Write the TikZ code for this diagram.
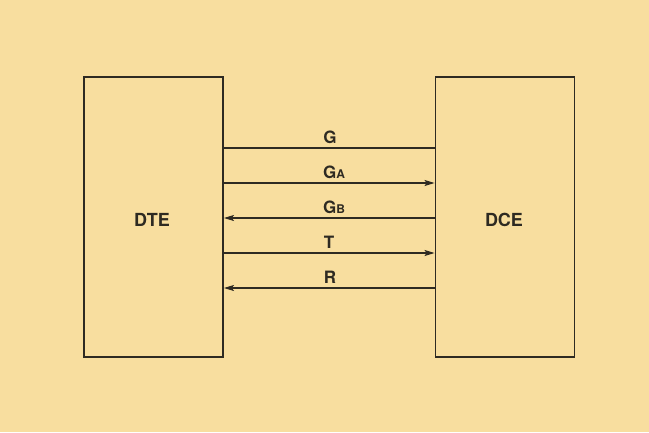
\documentclass[tikz,border=0pt]{standalone}
\usepackage{fontspec}
\setmainfont{TeX Gyre Heros}
\usetikzlibrary{arrows.meta}
\definecolor{paper}{HTML}{F8DE9F}
\definecolor{ink}{HTML}{2E2A22}
\begin{document}
\begin{tikzpicture}[x=1pt,y=-1pt,
  unit/.style={draw=ink,line width=1.9pt,minimum width=139pt,minimum height=280pt,inner sep=0pt},
  unitlab/.style={font=\bfseries\fontsize{18}{21}\selectfont,text=ink,inner sep=0pt,anchor=base},
  sig/.style={draw=ink,line width=1.2pt},
  arr/.style={sig,-{Stealth[length=10pt,width=6pt,inset=2pt]}},
  lab/.style={font=\bfseries\fontsize{17}{20}\selectfont,text=ink,inner sep=0pt,anchor=base}]
\fill[paper] (0,0) rectangle (649,432);
\useasboundingbox (0,0) rectangle (649,432);
\node[unit] (dte) at (153.5,217) {};
\node[unit] (dce) at (505,217) {};
\node[unitlab] (dtel) at (152,226) {DTE};
\node[unitlab] (dcel) at (504,226) {DCE};
\coordinate (l1) at (dte.east |- 0,148); \coordinate (r1) at (dce.west |- 0,148);
\coordinate (l2) at (dte.east |- 0,183); \coordinate (r2) at (dce.west |- 0,183);
\coordinate (l3) at (dte.east |- 0,218); \coordinate (r3) at (dce.west |- 0,218);
\coordinate (l4) at (dte.east |- 0,253); \coordinate (r4) at (dce.west |- 0,253);
\coordinate (l5) at (dte.east |- 0,288); \coordinate (r5) at (dce.west |- 0,288);
\draw[sig] (l1) -- (r1);
\draw[arr] (l2) -- (r2);
\draw[arr] (r3) -- (l3);
\draw[arr] (l4) -- (r4);
\draw[arr] (r5) -- (l5);
\node[lab] (g) at (330,143) {G};
\node[lab] (ga) at (334,178) {G{\fontsize{12}{14}\selectfont A}};
\node[lab] (gb) at (334,213) {G{\fontsize{12}{14}\selectfont B}};
\node[lab] (t) at (329,248) {T};
\node[lab] (r) at (330,283) {R};
\end{tikzpicture}
\end{document}
